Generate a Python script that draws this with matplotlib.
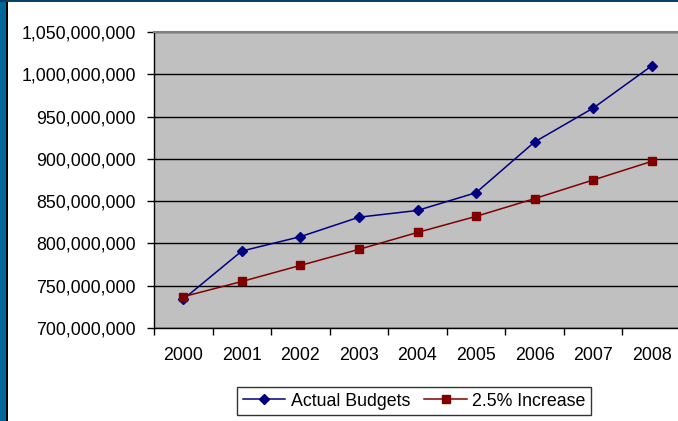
import matplotlib
matplotlib.use("Agg")
from matplotlib import pyplot as plt, patches
from matplotlib.ticker import FuncFormatter
import numpy as np

years = ["2000", "2001", "2002", "2003", "2004", "2005", "2006", "2007", "2008"]
actual_budgets = [734e6, 791e6, 808e6, 831e6, 839e6, 860e6, 920e6, 960e6, 1010e6]
increase_25 = [737e6, 755e6, 774e6, 793e6, 813e6, 832e6, 853e6, 875e6, 897e6]

plt.rcParams['font.family'] = ['Liberation Sans', 'DejaVu Sans']

fig = plt.figure(figsize=(6.78, 4.21), dpi=100)
fig.patch.set_facecolor("white")
ax = fig.add_axes([154/678, 1-328/421, 527/678, 296/421])
ax.set_facecolor("#C0C0C0")

x = np.arange(len(years))
ax.plot(x, actual_budgets, color="#000080", lw=1.1, marker="D", ms=5.5,
        label="Actual Budgets", zorder=3)
ax.plot(x, increase_25, color="#800000", lw=1.1, marker="s", ms=6,
        label="2.5% Increase", zorder=3)

ax.set_xlim(-0.5, len(years) - 0.5)
ax.set_ylim(700e6, 1050e6)
ax.set_yticks(np.arange(700e6, 1050e6 + 1, 50e6))
ax.yaxis.set_major_formatter(FuncFormatter(lambda v, p: f"{int(round(v)):,}"))
ax.set_xticks(x)
ax.set_xticklabels(years)
ax.set_xticks(np.arange(-0.5, len(years)), minor=True)
ax.grid(axis="y", color="black", lw=1)
ax.set_axisbelow(True)

ax.tick_params(axis="x", which="major", length=0, pad=14, labelsize=12.8)
ax.tick_params(axis="x", which="minor", length=5, width=1, direction="out")
ax.tick_params(axis="y", length=5, width=1, direction="out", pad=8, labelsize=12.8)

for s in ["left", "bottom"]:
    ax.spines[s].set_color("black")
    ax.spines[s].set_linewidth(1)
ax.spines["top"].set_color("#808080")
ax.spines["top"].set_linewidth(1.5)
ax.spines["right"].set_visible(False)

leg = fig.legend(loc="center", bbox_to_anchor=(0.611, 0.0475), ncol=2,
                 fontsize=12.8, frameon=True, fancybox=False, edgecolor="black",
                 handlelength=2.4, handletextpad=0.3, columnspacing=0.8,
                 borderpad=0.3)
leg.get_frame().set_linewidth(1)

# outer dark blue frame
fig.patches.append(patches.Rectangle((0, 0), 6/678, 1, transform=fig.transFigure,
                                     facecolor="#00669A", edgecolor="none"))
fig.patches.append(patches.Rectangle((6/678, 0), 1.5/678, 1, transform=fig.transFigure,
                                     facecolor="black", edgecolor="none"))
fig.patches.append(patches.Rectangle((0, 1-2/421), 1, 2/421, transform=fig.transFigure,
                                     facecolor="#0A3F66", edgecolor="none"))

fig.savefig("out.png", dpi=100)
